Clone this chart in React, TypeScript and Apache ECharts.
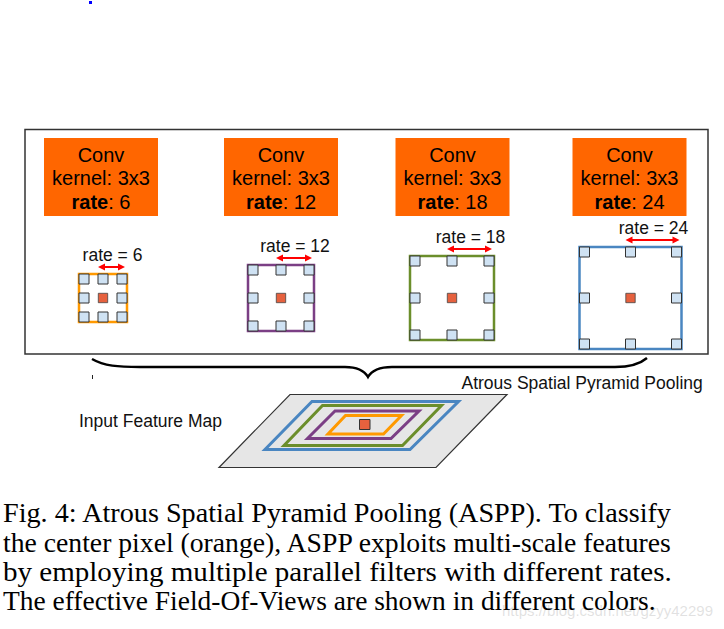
import React, { useEffect, useRef } from 'react';
import * as echarts from 'echarts';

// ---- content / data ----
const rates = [6, 12, 18, 24];
const boxTitle = 'Conv';
const kernelLabel = 'kernel: 3x3';
const rateWord = 'rate';
const diagramTitle = 'Atrous Spatial Pyramid Pooling';
const inputLabel = 'Input Feature Map';
const captionLines = [
  'Fig. 4: Atrous Spatial Pyramid Pooling (ASPP). To classify',
  'the center pixel (orange), ASPP exploits multi-scale features',
  'by employing multiple parallel filters with different rates.',
  'The effective Field-Of-Views are shown in different colors.',
];
const watermark = 'https://blog.csdn.net/gzyy42299';

// ---- styles / layout ----
const SANS = '"Liberation Sans", Arial, sans-serif';
const SERIF = '"Liberation Serif", "Times New Roman", serif';
const fovColors = ['#ff9900', '#7b3f85', '#6b8e2b', '#4a86c1'];
const BOX_FILL = '#ff6600';
const CELL_FILL = '#cfe2f3';
const CENTER_FILL = '#e6613e';
const boxCX = [101, 281, 452.5, 629.5];
const gridCX = [103, 281, 452, 630.5];
const GRID_CY = 298;
const BOX_TOP = 138;
const BOX_W = 114;
const BOX_H = 78;
const CELL = 10;

// feature-map rings (orange, purple, green, blue from inside out)
const planePts = [[290, 394.5], [507, 394.5], [436, 467.5], [219, 467.5]];
const ringPts = [
  [[345.5, 415.5], [401.5, 415.5], [383.5, 434], [328, 434]],
  [[335, 411], [419, 411], [391, 438.5], [307.5, 438.5]],
  [[322.5, 405.5], [441.5, 405.5], [402.5, 445.5], [284, 445.5]],
  [[312, 401.5], [458.5, 401.5], [410, 449.5], [265, 449.5]],
];

const BRACE_D =
  'M92,359 C104,366 118,367 140,367 L345,367 C357,367 364,370 368,377 C372,370 379,367 392,367 L615,367 C630,367 640,364 647,358';
echarts.graphic.registerShape('brace', echarts.graphic.extendPath(BRACE_D, {}) as any);

function measure(text: string, font: string): number {
  const ctx = document.createElement('canvas').getContext('2d');
  if (!ctx) return text.length * 10;
  ctx.font = font;
  return ctx.measureText(text).width;
}

function buildElements(): any[] {
  const els: any[] = [];

  // tiny blue dot at top
  els.push({ type: 'rect', shape: { x: 89, y: 1, width: 3, height: 3 }, style: { fill: '#0000ff' } });

  // outer frame
  els.push({
    type: 'rect',
    shape: { x: 25, y: 129.5, width: 683, height: 224.5 },
    style: { fill: 'none', stroke: '#333', lineWidth: 1.5 },
  });

  rates.forEach((rate, i) => {
    // orange conv box
    const bx = boxCX[i];
    els.push({
      type: 'rect',
      shape: { x: bx - BOX_W / 2, y: BOX_TOP, width: BOX_W, height: BOX_H },
      style: { fill: BOX_FILL },
    });
    els.push({
      type: 'text', x: bx, y: 154.5,
      style: { text: boxTitle, fill: '#000', fontSize: 20, fontFamily: SANS, align: 'center', verticalAlign: 'middle' },
    });
    els.push({
      type: 'text', x: bx, y: 178.3,
      style: { text: kernelLabel, fill: '#000', fontSize: 20, fontFamily: SANS, align: 'center', verticalAlign: 'middle' },
    });
    els.push({
      type: 'text', x: bx, y: 201.7,
      style: {
        text: `{b|${rateWord}}: ${rate}`,
        fill: '#000', fontSize: 20, fontFamily: SANS, align: 'center', verticalAlign: 'middle',
        rich: { b: { fontWeight: 'bold', fontSize: 20, fontFamily: SANS, fill: '#000' } },
      },
    });

    // filter grid
    const cx = gridCX[i];
    const s = 30 + 3 * rate;
    const top = GRID_CY - s / 2;
    els.push({
      type: 'rect',
      shape: { x: cx - s / 2, y: top, width: s, height: s },
      style: { fill: 'none', stroke: fovColors[i], lineWidth: 2.5 },
    });
    const off = s / 2 - CELL / 2;
    for (let r = 0; r < 3; r++) {
      for (let c = 0; c < 3; c++) {
        if (r === 1 && c === 1) continue;
        els.push({
          type: 'rect',
          shape: { x: cx + (c - 1) * off - CELL / 2, y: GRID_CY + (r - 1) * off - CELL / 2, width: CELL, height: CELL },
          style: { fill: CELL_FILL, stroke: '#333', lineWidth: 1 },
        });
      }
    }
    els.push({
      type: 'rect',
      shape: { x: cx - 4.7, y: GRID_CY - 4.7, width: 9.4, height: 9.4 },
      style: { fill: CENTER_FILL, stroke: '#444', lineWidth: 0.8 },
    });

    // red double arrow
    const ay = top - 7;
    const x1 = cx - 5;
    const x2 = cx + s / 2 - 2;
    els.push({
      type: 'line',
      shape: { x1: x1 + 5, y1: ay, x2: x2 - 5, y2: ay },
      style: { stroke: '#ff0000', lineWidth: 2 },
    });
    els.push({
      type: 'polygon',
      shape: { points: [[x1, ay], [x1 + 7, ay - 3.6], [x1 + 7, ay + 3.6]] },
      style: { fill: '#ff0000' },
    });
    els.push({
      type: 'polygon',
      shape: { points: [[x2, ay], [x2 - 7, ay - 3.6], [x2 - 7, ay + 3.6]] },
      style: { fill: '#ff0000' },
    });
    els.push({
      type: 'text', x: (x1 + x2) / 2 + 1, y: ay - 12,
      style: { text: `rate = ${rate}`, fill: '#111', fontSize: 17.5, fontFamily: SANS, align: 'center', verticalAlign: 'middle' },
    });
  });

  // brace
  els.push({ type: 'brace', x: 0, y: 0, shape: {}, style: { fill: 'none', stroke: '#000', lineWidth: 2.4 } });
  els.push({ type: 'rect', shape: { x: 92, y: 375, width: 1, height: 4 }, style: { fill: '#222' } });

  els.push({
    type: 'text', x: 461.5, y: 383.3,
    style: { text: diagramTitle, fill: '#111', fontSize: 17.5, fontFamily: SANS, align: 'left', verticalAlign: 'middle' },
  });
  els.push({
    type: 'text', x: 79, y: 420.7,
    style: { text: inputLabel, fill: '#111', fontSize: 17.5, fontFamily: SANS, align: 'left', verticalAlign: 'middle' },
  });

  // input feature map
  els.push({
    type: 'polygon',
    shape: { points: planePts },
    style: { fill: '#e6e6e6', stroke: '#333', lineWidth: 1.2 },
  });
  ringPts.forEach((pts, i) => {
    els.push({
      type: 'polygon',
      shape: { points: pts },
      style: { fill: 'none', stroke: fovColors[i], lineWidth: 3, lineJoin: 'miter' },
    });
  });
  els.push({
    type: 'rect',
    shape: { x: 359.5, y: 419.5, width: 10.5, height: 10 },
    style: { fill: CENTER_FILL, stroke: '#333', lineWidth: 1 },
  });

  // watermark
  els.push({
    type: 'text', x: 713, y: 610,
    style: { text: watermark, fill: 'rgba(170,170,170,0.35)', fontSize: 15, fontFamily: SANS, align: 'right', verticalAlign: 'middle' },
  });

  // caption (justified by stretching each line to its measured width)
  const capSize = 26.5;
  const capFont = `${capSize}px ${SERIF}`;
  const mids = [513.3, 542.8, 572.2, 601.5];
  const rights = [673, 673.5, 672, 656];
  captionLines.forEach((line, i) => {
    const w = measure(line, capFont);
    const target = rights[i] - 3;
    const sx = w > 0 ? target / w : 1;
    els.push({
      type: 'text', x: 3, y: mids[i], scaleX: sx, scaleY: 1,
      style: { text: line, fill: '#000', fontSize: capSize, fontFamily: SERIF, align: 'left', verticalAlign: 'middle' },
    });
  });

  return els;
}

export default function App() {
  const ref = useRef<HTMLDivElement>(null);
  useEffect(() => {
    if (!ref.current) return;
    const chart = echarts.init(ref.current, undefined, { renderer: 'svg' });
    chart.setOption({
      animation: false,
      backgroundColor: '#fff',
      graphic: { elements: buildElements() },
    });
    return () => chart.dispose();
  }, []);
  return (
    <div
      ref={ref}
      style={{ position: 'fixed', left: 0, top: 0, width: 724, height: 629, background: '#fff' }}
    />
  );
}
